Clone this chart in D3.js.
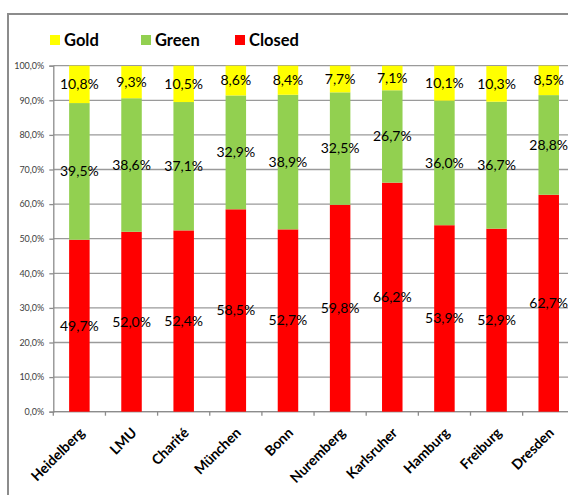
<!DOCTYPE html>
<html><head><meta charset="utf-8">
<script src="https://cdn.jsdelivr.net/npm/d3@7"></script>
<style>body{margin:0;background:#fff}svg{display:block}</style>
</head><body>
<svg id="c" width="568" height="495"></svg>
<script>
const categories = ["Heidelberg","LMU","Charité","München","Bonn","Nuremberg","Karlsruher","Hamburg","Freiburg","Dresden"];
const closed = [49.7,52.0,52.4,58.5,52.7,59.8,66.2,53.9,52.9,62.7];
const green  = [39.5,38.6,37.1,32.9,38.9,32.5,26.7,36.0,36.7,28.8];
const gold   = [10.8,9.3,10.5,8.6,8.4,7.7,7.1,10.1,10.3,8.5];
const seriesNames = ["Gold","Green","Closed"];
const colors = {Gold:"#FFFF00", Green:"#92D050", Closed:"#FF0000"};
const yTicks = [0,10,20,30,40,50,60,70,80,90,100];

(function(){
const svg = d3.select("#c");
const fmt = v => v.toFixed(1).replace(".", ",") + "%";

svg.append("rect").attr("x",8).attr("y",14).attr("width",600).attr("height",520)
  .attr("fill","#fff").attr("stroke","#8c8c8c").attr("stroke-width",2);

const pLeft = 53.3, pTop = 65.7, pBottom = 411.7;
const x = d3.scaleBand().domain(categories).range([pLeft, pLeft + 52.15*10]).paddingInner(0).paddingOuter(0);
const y = d3.scaleLinear().domain([0,100]).range([pBottom, pTop]);
const barW = 20.5;

svg.append("g").selectAll("line").data(yTicks).join("line")
  .attr("x1", pLeft).attr("x2", 600).attr("y1", d=>y(d)).attr("y2", d=>y(d))
  .attr("stroke","#9a9a9a").attr("stroke-width",1.3);

const yAxis = svg.append("g").attr("transform",`translate(${pLeft},0)`)
  .call(d3.axisLeft(y).tickValues(yTicks).tickSize(4).tickFormat(d=>fmt(d)));
yAxis.select(".domain").attr("stroke","#8c8c8c").attr("stroke-width",1.3);
yAxis.selectAll(".tick line").attr("stroke","#8c8c8c").attr("stroke-width",1.3);
yAxis.selectAll("text").attr("font-family","Lato, 'Open Sans', sans-serif").attr("font-size","9px")
  .attr("fill","#404040").attr("x",-9);

const xAxis = svg.append("g").attr("transform",`translate(0,${pBottom})`)
  .call(d3.axisBottom(x).tickSize(0).tickFormat(""));
xAxis.select(".domain").remove();
const bounds = d3.range(categories.length+1).map(i => pLeft + i*x.step());
svg.append("g").selectAll("line").data(bounds).join("line")
  .attr("x1",d=>d).attr("x2",d=>d).attr("y1",pBottom).attr("y2",pBottom+4)
  .attr("stroke","#8c8c8c").attr("stroke-width",1.3);
svg.append("line").attr("x1",pLeft).attr("x2",600).attr("y1",pBottom).attr("y2",pBottom)
  .attr("stroke","#8c8c8c").attr("stroke-width",1.3);

svg.append("g").selectAll("text").data(categories).join("text")
  .attr("transform", d => `translate(${x(d)+x.bandwidth()/2+6},${pBottom+22}) rotate(-45)`)
  .attr("text-anchor","end")
  .attr("font-family","Lato, 'Open Sans', sans-serif").attr("font-weight","bold")
  .attr("font-size","14px").attr("fill","#000")
  .text(d=>d);

const rows = categories.map((c,i)=>({cat:c, Closed:closed[i], Green:green[i], Gold:gold[i]}));
const stack = d3.stack().keys(["Closed","Green","Gold"])(rows);

const gBars = svg.append("g");
stack.forEach(layer => {
  gBars.append("g").attr("fill", colors[layer.key]).selectAll("rect").data(layer).join("rect")
    .attr("x", d => x(d.data.cat)+x.bandwidth()/2-barW/2)
    .attr("width", barW)
    .attr("y", d => y(Math.min(d[1],100)))
    .attr("height", d => y(d[0]) - y(Math.min(d[1],100)));
});
stack.forEach(layer => {
  svg.append("g").selectAll("text").data(layer).join("text")
    .attr("x", d => x(d.data.cat)+x.bandwidth()/2)
    .attr("y", d => y((d[0]+Math.min(d[1],100))/2))
    .attr("dy","0.35em")
    .attr("text-anchor","middle")
    .attr("font-family","Lato, 'Open Sans', sans-serif").attr("font-size","14px").attr("fill","#000")
    .text(d => fmt(d.data[layer.key]));
});

const legend = svg.append("g");
const legX = [50, 141, 235];
seriesNames.forEach((s,i)=>{
  legend.append("rect").attr("x",legX[i]).attr("y",35).attr("width",10).attr("height",10).attr("fill",colors[s]);
  legend.append("text").attr("x",legX[i]+14).attr("y",40).attr("dy","0.36em")
    .attr("font-family","Lato, 'Open Sans', sans-serif").attr("font-weight","bold").attr("font-size","16.5px")
    .attr("fill","#000").text(s);
});
})();
</script>
</body></html>
